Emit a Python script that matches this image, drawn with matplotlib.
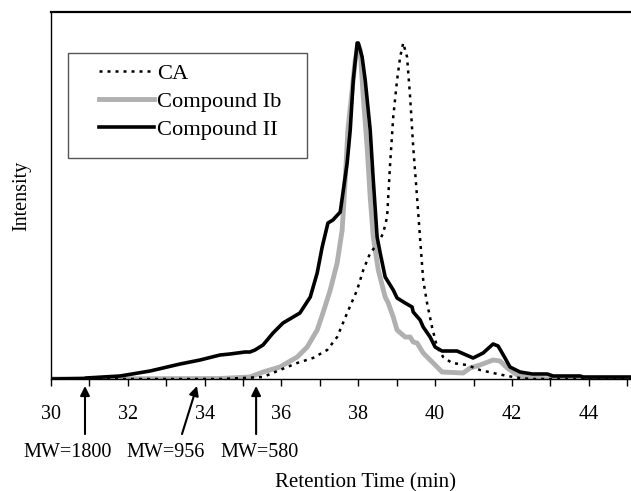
import matplotlib
matplotlib.use("Agg")
import matplotlib.pyplot as plt
from matplotlib.patches import Rectangle

plt.rcParams['font.family'] = ['Liberation Serif', 'DejaVu Serif']

# Retention time (min) and intensity (arbitrary units)
ca_t = [30.0, 34.4, 35.0, 35.52, 35.96, 36.41, 36.82, 37.19, 37.45, 37.71, 37.97, 38.13,
        38.31, 38.52, 38.65, 38.75, 38.83, 38.91, 39.01, 39.09, 39.17, 39.27, 39.35,
        39.43, 39.53, 39.61, 39.69, 39.79, 39.92, 40.05, 40.21, 40.44, 40.83, 41.17,
        41.51, 41.88, 42.21, 42.5, 45.1]
ca_i = [0, 0, 1, 2, 9, 16, 21, 29, 42, 66, 89, 109,
        126, 136, 146, 162, 216, 262, 299, 322, 336, 322, 282,
        232, 182, 140, 99, 76, 52, 32, 22, 16, 14, 9,
        6, 3, 1, 0, 0]

ib_t = [30.0, 34.4, 34.92, 35.18, 35.52, 35.96, 36.41, 36.67, 36.93, 37.08, 37.27, 37.45,
        37.58, 37.66, 37.73, 37.84, 37.92, 38.0, 38.05, 38.13, 38.23, 38.31, 38.39,
        38.52, 38.70, 38.78, 38.91, 39.01, 39.22, 39.35, 39.43, 39.53, 39.69, 39.87,
        39.95, 40.18, 40.73, 40.91, 41.17, 41.51, 41.69, 41.88, 42.14, 42.47, 43.07, 45.1]
ib_i = [0, 0.5, 1.5, 2, 7, 12, 22, 32, 49, 66, 89, 116,
        149, 199, 249, 289, 319, 334, 329, 282, 232, 182, 142,
        109, 82, 76, 62, 49, 42, 42, 37, 36, 26, 19,
        16, 7, 6, 11, 14, 19, 18, 11, 4, 1, 0, 0]

ii_t = [30.0, 30.9, 30.91, 31.8, 32.58, 33.36, 33.88, 34.40, 34.66, 35.05, 35.18, 35.31,
        35.52, 35.78, 36.04, 36.48, 36.75, 36.93, 37.06, 37.21, 37.34, 37.53, 37.60,
        37.71, 37.79, 37.87, 37.97, 38.0, 38.10, 38.18, 38.31, 38.39, 38.49, 38.57,
        38.70, 38.91, 39.01, 39.22, 39.40, 39.43, 39.61, 39.69, 39.87, 40.0, 40.18,
        40.39, 40.57, 40.99, 41.25, 41.51, 41.64, 41.82, 41.95, 42.21, 42.53, 42.92,
        43.07, 43.78, 43.85, 45.1]
ii_i = [0, 0.5, 1, 3, 8, 15, 19, 24, 25, 27, 27, 29,
        34, 46, 56, 66, 82, 106, 132, 156, 159, 167, 186,
        216, 249, 299, 336, 336, 322, 299, 249, 199, 142, 126,
        102, 89, 81, 76, 72, 67, 59, 52, 42, 32, 28,
        28, 28, 21, 26, 35, 33, 21, 12, 7, 5, 5,
        3, 3, 2, 2]

mw_labels = ["MW=1800", "MW=956", "MW=580"]
mw_tip = [30.885, 33.80, 35.34]
mw_base = [30.885, 33.41, 35.34]
mw_text_x = [30.42, 32.99, 35.44]

fig = plt.figure(figsize=(6.31, 4.91), dpi=100)
ax = fig.add_axes([51/631, 112/491, 580/631, 367/491])

ax.plot(ib_t, ib_i, color='#b0b0b0', lw=3.5, label='Compound Ib', solid_joinstyle='round')
ax.plot(ii_t, ii_i, color='black', lw=2.6, label='Compound II', solid_joinstyle='round')
ax.plot(ca_t, ca_i, color='black', lw=1.8, linestyle=(0, (1.2, 2.0)), label='CA')

ax.set_xlim(30, 45.1)
ax.set_ylim(0, 367)

ax.spines['right'].set_visible(False)
for s in ['left', 'top', 'bottom']:
    ax.spines[s].set_linewidth(1.0)
    ax.spines[s].set_color('black')
ax.spines['top'].set_linewidth(1.6)

ax.set_yticks([])
ax.set_xticks([30, 32, 34, 36, 38, 40, 42, 44])
ax.set_xticks([31, 33, 35, 37, 39, 41, 43, 45], minor=True)
ax.tick_params(axis='x', which='both', direction='out', length=5, width=1, labelsize=14.5, pad=14)

ax.set_ylabel('Intensity', fontsize=14.5)
ax.yaxis.set_label_coords(-0.034, 0.5)
ax.text(0.543, -0.283, 'Retention Time (min)', transform=ax.transAxes,
        ha='center', va='center', fontsize=15)

trans = ax.get_xaxis_transform()
for lab, tip, base, tx in zip(mw_labels, mw_tip, mw_base, mw_text_x):
    ax.annotate('', xy=(tip, -0.019), xycoords=trans, xytext=(base, -0.150), textcoords=trans,
                arrowprops=dict(arrowstyle='-|>', color='black', lw=1.5, mutation_scale=14,
                                shrinkA=0, shrinkB=0))
    ax.text(tx, -0.199, lab, transform=trans, ha='center', va='center', fontsize=14.5)

# legend frame (pixel box 68..307 x 53..158)
ax.add_patch(Rectangle(((68 - 51) / 580, (379 - 158) / 367), (307 - 68) / 580, (158 - 53) / 367,
                       transform=ax.transAxes, fill=True, facecolor='white',
                       edgecolor='#555555', lw=1.0, zorder=4))

handles, labels = ax.get_legend_handles_labels()
order = [2, 0, 1]
leg = ax.legend([handles[i] for i in order], [labels[i] for i in order],
                loc='upper left', bbox_to_anchor=((99 - 51) / 580, (379 - 63) / 367),
                fontsize=16.2, frameon=False,
                handlelength=2.45, handletextpad=0.12, borderpad=0, labelspacing=0.33,
                borderaxespad=0)
leg.set_zorder(5)

fig.savefig('out.png', dpi=100)
